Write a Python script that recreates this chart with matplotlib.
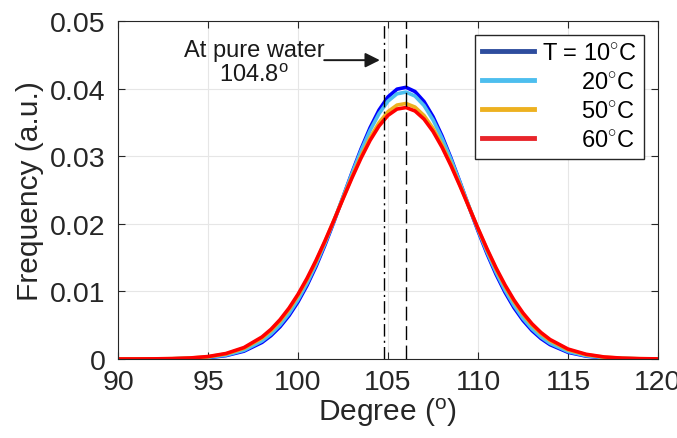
import matplotlib
matplotlib.use('Agg')
import matplotlib.pyplot as plt
from matplotlib.lines import Line2D

plt.rcParams['font.family'] = ['Liberation Sans', 'DejaVu Sans']
plt.rcParams['mathtext.fontset'] = 'custom'
plt.rcParams['mathtext.rm'] = 'Liberation Sans'
plt.rcParams['mathtext.it'] = 'Liberation Sans'

# degree axis (finer steps around the peak)
deg = [90, 91, 92, 93, 94, 95, 96, 97, 98, 98.5, 99, 99.5, 100, 100.5, 101, 101.5, 102, 102.5,
       103, 103.5, 104, 104.5, 105, 105.5, 106, 106.5, 107, 107.5, 108, 108.5, 109, 109.5,
       110, 110.5, 111, 111.5, 112, 112.5, 113, 113.5, 114, 115, 116, 117, 118, 119, 120]

f_10 = [0.0000005, 0.0000019, 0.0000070, 0.000023, 0.000070, 0.000196, 0.000497, 0.001155,
        0.00245, 0.003454, 0.00476, 0.006411, 0.00845, 0.010880, 0.01370, 0.016881, 0.02033,
        0.023946, 0.02758, 0.031053, 0.03419, 0.036819, 0.03877, 0.039913, 0.04018, 0.039556,
        0.03808, 0.035842, 0.03299, 0.029693, 0.02613, 0.022488, 0.01893, 0.015571, 0.01253,
        0.009858, 0.00758, 0.005706, 0.00420, 0.003020, 0.00212, 0.00098, 0.00042, 0.00016,
        0.000057, 0.000018, 0.0000054]
f_20 = [0.0000007, 0.0000027, 0.0000093, 0.0000296, 0.000086, 0.000232, 0.000570, 0.001284,
        0.00266, 0.003699, 0.00504, 0.006717, 0.00877, 0.011192, 0.01398, 0.017098, 0.02046,
        0.023958, 0.02745, 0.030791, 0.03379, 0.036289, 0.03814, 0.039228, 0.03948, 0.038890,
        0.03749, 0.035360, 0.03264, 0.029486, 0.02607, 0.022551, 0.01909, 0.015817, 0.01283,
        0.010175, 0.00790, 0.006002, 0.00446, 0.003249, 0.00231, 0.00110, 0.00048, 0.00019,
        0.000070, 0.000024, 0.0000073]
f_50 = [0.0000015, 0.0000051, 0.000016, 0.000048, 0.000129, 0.000321, 0.000740, 0.001574,
        0.00309, 0.004199, 0.00559, 0.007306, 0.00935, 0.011730, 0.01442, 0.017382, 0.02053,
        0.023769, 0.02697, 0.030001, 0.03270, 0.034941, 0.03659, 0.037558, 0.03779, 0.037258,
        0.03601, 0.034110, 0.03167, 0.028820, 0.02570, 0.022472, 0.01926, 0.016170, 0.01331,
        0.010739, 0.00849, 0.006581, 0.00500, 0.003723, 0.00272, 0.00136, 0.00063, 0.00027,
        0.000106, 0.000039, 0.000013]
f_60 = [0.0000019, 0.0000064, 0.000020, 0.000056, 0.000148, 0.000361, 0.000812, 0.001693,
        0.00326, 0.004393, 0.00581, 0.007527, 0.00957, 0.011926, 0.01458, 0.017480, 0.02055,
        0.023696, 0.02680, 0.029714, 0.03232, 0.034462, 0.03604, 0.036969, 0.03719, 0.036681,
        0.03548, 0.033664, 0.03132, 0.028577, 0.02557, 0.022437, 0.01931, 0.016294, 0.01348,
        0.010945, 0.00871, 0.006799, 0.00520, 0.003908, 0.00288, 0.00147, 0.00070, 0.00030,
        0.000123, 0.000046, 0.000016]

labels = ['T = 10$^{\\circ}$C', '      20$^{\\circ}$C', '      50$^{\\circ}$C', '      60$^{\\circ}$C']
line_colors = ['#0000ff', '#4dbeee', '#edb120', '#ff0000']
legend_colors = ['#2e4d9e', '#4dbeee', '#edb120', '#e8252b']

pure_water = 104.8
peak_pos = 106.0

fig = plt.figure(figsize=(6.77, 4.39), dpi=100)
ax = fig.add_axes([0.1743, 0.18, 0.7977, 0.77])

for y, c in zip([f_10, f_20, f_50, f_60], line_colors):
    ax.plot(deg, y, color=c, lw=2.6, solid_joinstyle='round')

ax.axvline(pure_water, color='k', lw=1.0, ls=(0, (9, 3, 1.5, 3)))
ax.axvline(peak_pos, color='k', lw=1.0, ls=(0, (10, 4)))

ax.text(97.55, 0.0439, 'At pure water\n104.8$^{\\rm o}$', ha='center', va='center',
        fontsize=17, linespacing=1.15, color='#1a1a1a')
ax.annotate('', xy=(104.7, 0.0442), xytext=(101.3, 0.0442),
            arrowprops=dict(arrowstyle='-|>', color='#1a1a1a', lw=1.4, mutation_scale=22))

ax.set_xlim(90, 120)
ax.set_ylim(0, 0.05)
ax.set_xticks(range(90, 121, 5))
ax.set_yticks([0, 0.01, 0.02, 0.03, 0.04, 0.05])
ax.set_yticklabels(['0', '0.01', '0.02', '0.03', '0.04', '0.05'])
ax.tick_params(direction='in', top=True, right=True, labelsize=20.5, length=5, width=0.8,
               colors='#262626')
ax.tick_params(axis='y', pad=9)
ax.tick_params(axis='x', pad=7)
ax.grid(True, color='#e6e6e6', lw=0.8)
ax.set_axisbelow(True)
for s in ax.spines.values():
    s.set_color('#262626')
    s.set_linewidth(0.8)

ax.set_xlabel('Degree ($^{\\rm o}$)', fontsize=21.5, color='#262626', labelpad=1)
ax.set_ylabel('Frequency (a.u.)', fontsize=21.5, color='#262626', labelpad=4)

handles = [Line2D([], [], color=c, lw=3.5) for c in legend_colors]
leg = ax.legend(handles, labels, loc='upper right', fontsize=17, frameon=True, fancybox=False,
                edgecolor='#262626', framealpha=1, handlelength=2.2, handletextpad=0.35,
                borderpad=0.3, labelspacing=0.3, borderaxespad=0.6)
leg.get_frame().set_linewidth(1.0)

fig.savefig('out.png', dpi=100)
